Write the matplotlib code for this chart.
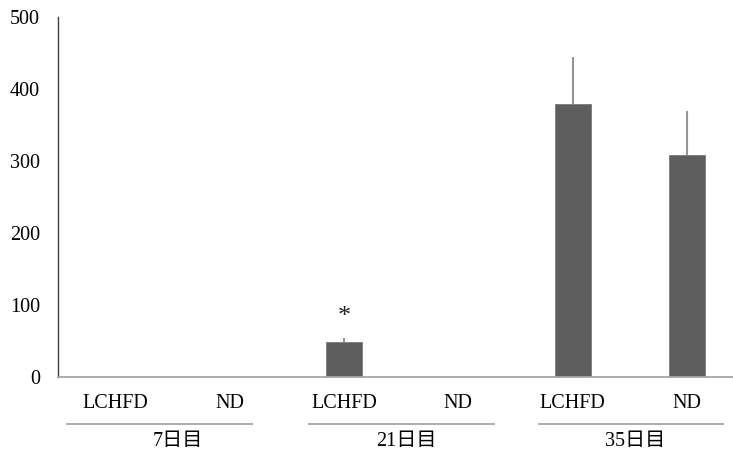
import matplotlib
matplotlib.use("Agg")
import matplotlib.pyplot as plt
import matplotlib.transforms as mtransforms

categories = ["LCHFD", "ND", "LCHFD", "ND", "LCHFD", "ND"]
values = [0, 0, 48.5, 0, 378.5, 309]
errors = [0, 0, 6, 0, 66, 61]
groups = ["7日目", "21日目", "35日目"]
yticks = [0, 100, 200, 300, 400, 500]

FONT = ["Liberation Serif", "Noto Sans CJK JP", "DejaVu Sans"]
plt.rcParams["font.family"] = FONT

fig = plt.figure(figsize=(7.33, 4.57), dpi=100)
ax = fig.add_axes([58.25 / 733, 1 - 377 / 457, (744 - 58.25) / 733, 360 / 457])

x = list(range(len(categories)))
ax.bar(x, values, width=0.315, color="#5e5e5e", edgecolor="#7a7a7a", linewidth=0.6, zorder=2)
ax.errorbar(x, values, yerr=[[0] * len(errors), errors], fmt="none",
            ecolor="#969696", elinewidth=1.5, capsize=0, zorder=1)

ax.set_xlim(-0.5, 5.5)
ax.set_ylim(0, 500)
ax.set_yticks(yticks)
ax.set_yticklabels([str(t) for t in yticks], fontsize=14.5)
ax.set_xticks(x)
ax.set_xticklabels(categories, fontsize=14.5)
ax.tick_params(axis="y", length=0, pad=13)
ax.tick_params(axis="x", length=0, pad=12)

for s in ["top", "right"]:
    ax.spines[s].set_visible(False)
ax.spines["left"].set_color("#404040")
ax.spines["left"].set_linewidth(1.0)
ax.spines["bottom"].set_color("#a6a6a6")
ax.spines["bottom"].set_linewidth(1.3)

# significance marker
ax.text(2, 84, "*", ha="center", va="center", fontsize=19, color="#222222")

# group lines and labels
trans = mtransforms.blended_transform_factory(ax.transData, ax.transAxes)
spans = [(-0.42, 1.195), (1.69, 3.31), (3.71, 5.32)]
label_x = [0.55, 2.55, 4.55]
for (x0, x1), lx, g in zip(spans, label_x, groups):
    ax.plot([x0, x1], [-0.1306, -0.1306], transform=trans, color="#a6a6a6",
            linewidth=1.3, clip_on=False)
    ax.text(lx, -0.18, g, transform=trans, ha="center", va="center",
            fontsize=14.5, family=FONT)

fig.savefig("out.png", dpi=100)
